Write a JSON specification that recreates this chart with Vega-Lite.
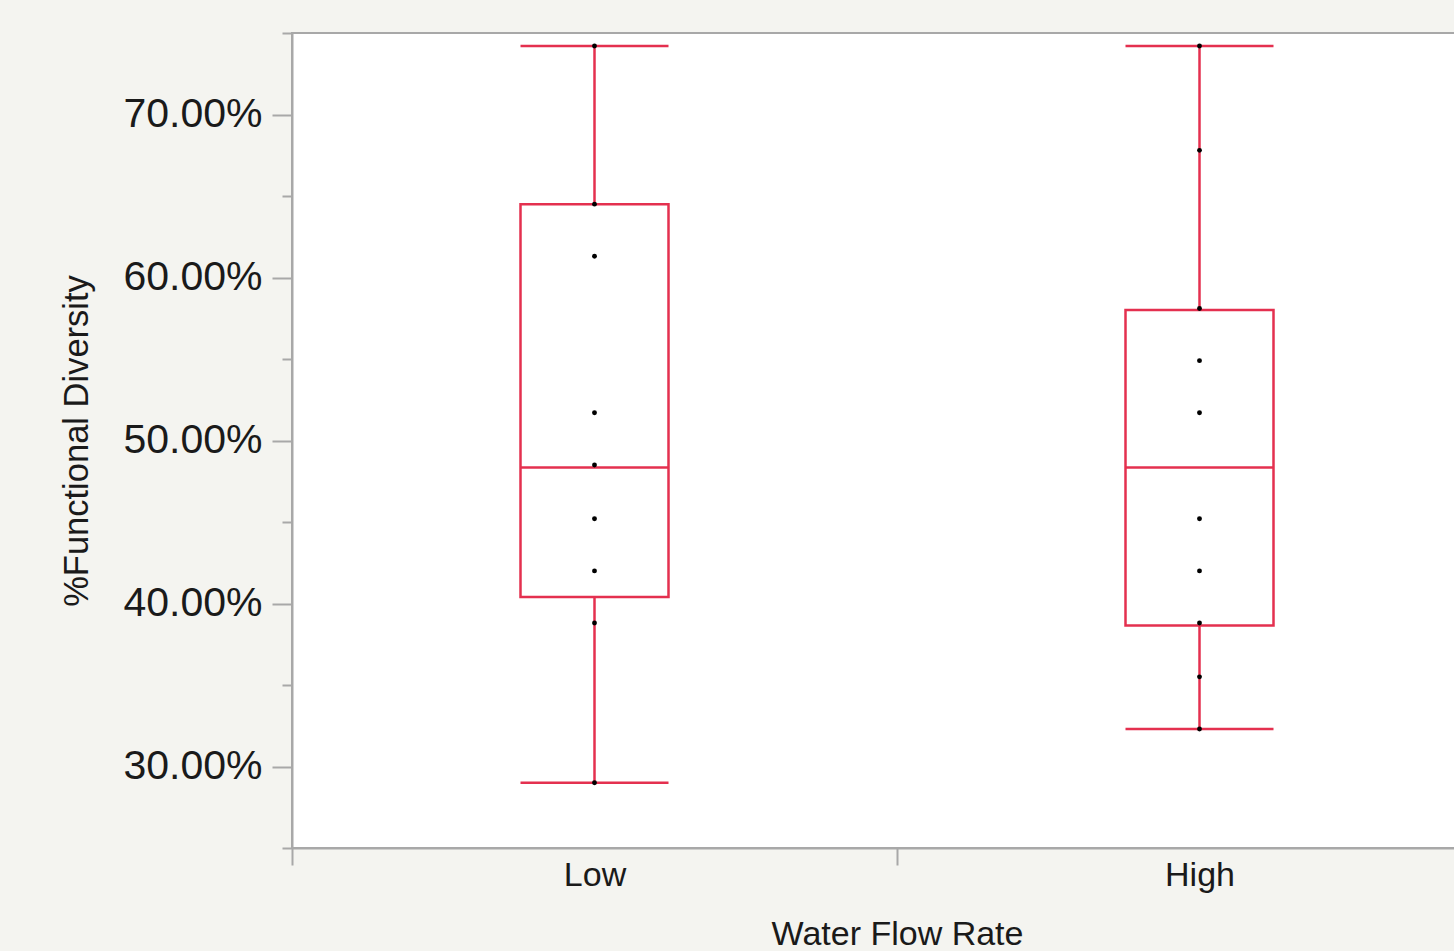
{
  "$schema": "https://vega.github.io/schema/vega-lite/v6.json",
  "width": 1210,
  "height": 815,
  "autosize": {"type": "none"},
  "padding": {"left": 292, "top": 33, "right": -48, "bottom": 103},
  "background": "#f4f4f0",
  "config": {
    "font": "Liberation Sans",
    "view": {"fill": "white", "stroke": "#a8a8a8", "strokeWidth": 2}
  },
  "datasets": {
    "stats": [
      {"group": "Low", "lower": 0.290, "q1": 0.404, "median": 0.4835, "q3": 0.645, "upper": 0.742},
      {"group": "High", "lower": 0.323, "q1": 0.3865, "median": 0.4835, "q3": 0.580, "upper": 0.742}
    ],
    "points": [
      {"group": "Low", "value": 0.742},
      {"group": "Low", "value": 0.645},
      {"group": "Low", "value": 0.613},
      {"group": "Low", "value": 0.517},
      {"group": "Low", "value": 0.485},
      {"group": "Low", "value": 0.452},
      {"group": "Low", "value": 0.420},
      {"group": "Low", "value": 0.388},
      {"group": "Low", "value": 0.290},
      {"group": "High", "value": 0.742},
      {"group": "High", "value": 0.678},
      {"group": "High", "value": 0.581},
      {"group": "High", "value": 0.549},
      {"group": "High", "value": 0.517},
      {"group": "High", "value": 0.452},
      {"group": "High", "value": 0.420},
      {"group": "High", "value": 0.388},
      {"group": "High", "value": 0.355},
      {"group": "High", "value": 0.323}
    ]
  },
  "encoding": {
    "x": {
      "field": "group",
      "type": "nominal",
      "sort": ["Low", "High"],
      "scale": {"domain": ["Low", "High"], "paddingInner": 0, "paddingOuter": 0},
      "axis": {
        "title": "Water Flow Rate",
        "labelAngle": 0,
        "tickBand": "extent",
        "tickSize": 17,
        "tickWidth": 2,
        "tickColor": "#a8a8a8",
        "tickOpacity": {"condition": {"test": "datum.extra === true", "value": 0}, "value": 1},
        "domainColor": "#a8a8a8",
        "domainWidth": 2,
        "labelFontSize": 34,
        "labelColor": "#1a1a1a",
        "labelPadding": -7,
        "titleFontSize": 34,
        "titleFontWeight": "normal",
        "titleColor": "#1a1a1a",
        "titlePadding": 25,
        "grid": false
      }
    }
  },
  "layer": [
    {
      "data": {"name": "stats"},
      "mark": {"type": "rule", "color": "#e4304f", "strokeWidth": 2.5},
      "encoding": {
        "y": {
          "field": "lower",
          "type": "quantitative",
          "scale": {"domain": [0.25, 0.75], "nice": false, "zero": false},
          "axis": {
            "title": "%Functional Diversity",
            "values": [0.25, 0.30, 0.35, 0.40, 0.45, 0.50, 0.55, 0.60, 0.65, 0.70, 0.75],
            "format": ".2%",
            "labelExpr": "round(datum.value*100) % 10 === 0 ? datum.label : ''",
            "labelOverlap": false,
            "labelBound": false,
            "tickSize": {"condition": {"test": "round(datum.value*100) % 10 === 0", "value": 20}, "value": 10},
            "tickWidth": 2,
            "tickColor": "#a8a8a8",
            "domainColor": "#a8a8a8",
            "domainWidth": 2,
            "labelFontSize": 41,
            "labelColor": "#1a1a1a",
            "labelPadding": 10,
            "titleFontSize": 34.5,
            "titleFontWeight": "normal",
            "titleColor": "#1a1a1a",
            "titlePadding": 28,
            "grid": false
          }
        },
        "y2": {"field": "upper"}
      }
    },
    {
      "data": {"name": "stats"},
      "mark": {"type": "bar", "fill": "white", "stroke": "#e4304f", "strokeWidth": 2.5, "size": 148},
      "encoding": {
        "y": {"field": "q1", "type": "quantitative"},
        "y2": {"field": "q3"}
      }
    },
    {
      "data": {"name": "stats"},
      "mark": {"type": "tick", "color": "#e4304f", "size": 148, "thickness": 2.5, "opacity": 1},
      "encoding": {"y": {"field": "median", "type": "quantitative"}}
    },
    {
      "data": {"name": "stats"},
      "mark": {"type": "tick", "color": "#e4304f", "size": 148, "thickness": 2.5, "opacity": 1},
      "encoding": {"y": {"field": "lower", "type": "quantitative"}}
    },
    {
      "data": {"name": "stats"},
      "mark": {"type": "tick", "color": "#e4304f", "size": 148, "thickness": 2.5, "opacity": 1},
      "encoding": {"y": {"field": "upper", "type": "quantitative"}}
    },
    {
      "data": {"name": "points"},
      "mark": {"type": "circle", "color": "black", "size": 24, "opacity": 1},
      "encoding": {"y": {"field": "value", "type": "quantitative"}}
    }
  ]
}
